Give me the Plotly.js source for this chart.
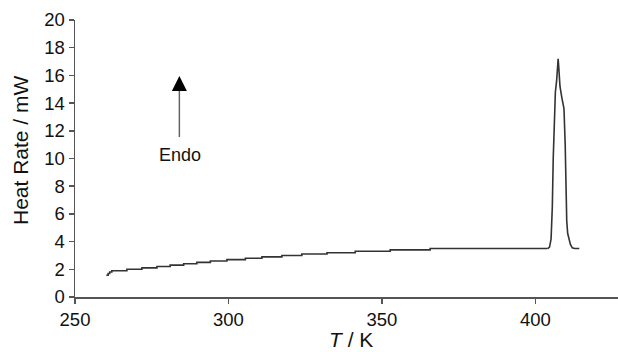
<!DOCTYPE html>
<html>
<head>
<meta charset="utf-8">
<script src="https://cdn.plot.ly/plotly-3.0.1.min.js"></script>
<style>html,body{margin:0;padding:0;background:#fff;}#chart{width:618px;height:352px;}</style>
</head>
<body>
<div id="chart"></div>
<script>
// Temperature (K) and heat rate (mW)
// Baseline (stepped recording)
var baseTemp = [260.2, 260.8, 261.3, 262.0, 266.9, 271.8, 276.7, 281.0, 285.4, 289.7, 294.1, 299.5, 305.5, 310.9, 317.4, 323.9, 332.1, 341.3, 352.7, 365.7, 404.0];
var baseRate = [1.57, 1.70, 1.80, 1.90, 2.00, 2.10, 2.20, 2.30, 2.40, 2.50, 2.60, 2.70, 2.80, 2.90, 3.00, 3.10, 3.20, 3.30, 3.40, 3.50, 3.50];
// Melting endotherm
var peakTemp = [404.0, 404.6, 405.1, 405.5, 405.8, 406.1, 406.5, 406.9, 407.2, 407.4, 407.6, 408.0, 408.6, 409.3, 409.7, 409.9, 410.2, 410.5, 410.9, 411.4, 412.0, 412.8, 414.3];
var peakRate = [3.50, 3.60, 4.20, 6.50, 10.0, 13.0, 14.8, 15.6, 16.8, 17.2, 16.6, 15.2, 14.4, 13.6, 11.0, 8.0, 5.5, 4.6, 4.2, 3.8, 3.55, 3.50, 3.50];
var xTicks = [250, 300, 350, 400];
var yTicks = [0, 2, 4, 6, 8, 10, 12, 14, 16, 18, 20];

var lineStyle = {color: '#333', width: 1.6};
var traces = [
  {x: baseTemp, y: baseRate, type: 'scatter', mode: 'lines', line: Object.assign({shape: 'hv'}, lineStyle), hoverinfo: 'none'},
  {x: peakTemp, y: peakRate, type: 'scatter', mode: 'lines', line: Object.assign({shape: 'linear'}, lineStyle), hoverinfo: 'none'}
];
var fam = 'Liberation Sans, Arial, sans-serif';
var tickFont = {family: fam, size: 18.5, color: '#111'};
var titleFont = {family: fam, size: 21, color: '#111'};
var layout = {
  width: 618, height: 352,
  margin: {l: 75, r: 0, t: 20, b: 55},
  paper_bgcolor: '#fff', plot_bgcolor: '#fff',
  showlegend: false,
  font: tickFont,
  xaxis: {
    range: [250, 426.9], tickvals: xTicks, ticktext: xTicks.map(String),
    showgrid: false, zeroline: false, showline: true, linecolor: '#555', linewidth: 1.5,
    ticks: 'outside', ticklen: 5, tickcolor: '#555', tickwidth: 1.5,
    tickfont: tickFont
  },
  yaxis: {
    range: [0, 20], tickvals: yTicks, ticktext: yTicks.map(String),
    showgrid: false, zeroline: false, showline: true, linecolor: '#555', linewidth: 1.5,
    ticks: 'outside', ticklen: 5, tickcolor: '#555', tickwidth: 1.5,
    tickfont: tickFont
  },
  annotations: [
    {x: 284.0, y: 14.9, ax: 284.0, ay: 11.45, xref: 'x', yref: 'y', axref: 'x', ayref: 'y',
     showarrow: true, arrowhead: 0, arrowwidth: 1.5, arrowcolor: '#666', text: ''},
    {x: 284.0, y: 15.96, ax: 284.0, ay: 14.8, xref: 'x', yref: 'y', axref: 'x', ayref: 'y',
     showarrow: true, arrowhead: 2, arrowsize: 2, arrowwidth: 1.5, arrowcolor: '#000', text: ''},
    {x: 284.3, y: 10.25, xref: 'x', yref: 'y', showarrow: false, text: 'Endo',
     font: {family: fam, size: 18, color: '#111'}},
    {x: -0.0994, y: 0.5307, xref: 'paper', yref: 'paper', showarrow: false, textangle: -90,
     text: 'Heat Rate / mW', font: titleFont, xanchor: 'center', yanchor: 'middle'},
    {x: 0.508, y: -0.155, xref: 'paper', yref: 'paper', showarrow: false,
     text: '<i>T</i> / K', font: titleFont, xanchor: 'center', yanchor: 'middle'}
  ]
};
Plotly.newPlot('chart', traces, layout, {staticPlot: true, displayModeBar: false});
</script>
</body>
</html>
